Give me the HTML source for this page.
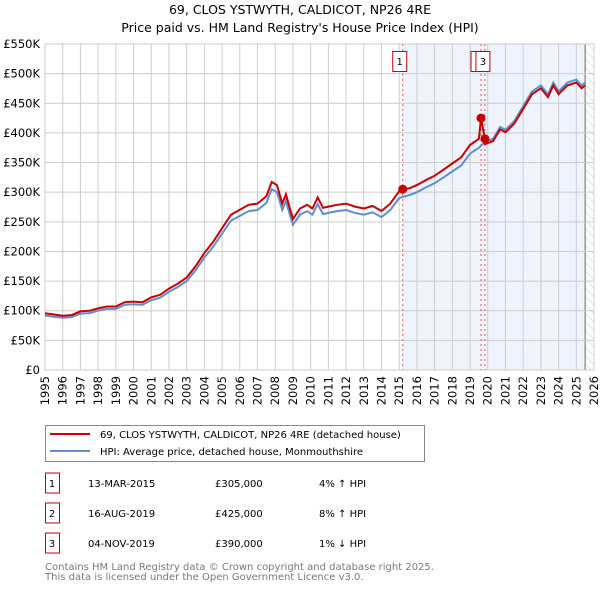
<!DOCTYPE html>
<html><head><meta charset="utf-8"><style>
body{margin:0;background:#fff;font-family:"DejaVu Sans","Liberation Sans",sans-serif;}
svg text{font-family:"DejaVu Sans","Liberation Sans",sans-serif;}
</style></head><body>
<svg id="chart" width="600" height="590" xmlns="http://www.w3.org/2000/svg">
<text x="300" y="14" text-anchor="middle" font-size="12.5">69, CLOS YSTWYTH, CALDICOT, NP26 4RE</text>
<text x="300" y="32" text-anchor="middle" font-size="12.5">Price paid vs. HM Land Registry's House Price Index (HPI)</text>
<defs><pattern id="hatch" width="6" height="6" patternUnits="userSpaceOnUse" patternTransform="rotate(-45)"><line x1="0" y1="0" x2="0" y2="6" stroke="#ccc" stroke-width="1"/></pattern></defs>
<g id="grid"></g>
<g id="series"></g>
<g id="axes"></g>
<rect x="45.5" y="425.5" width="379" height="36" fill="#fff" stroke="#888"/>
<line x1="50" y1="434" x2="90" y2="434" stroke="#cc0000" stroke-width="2"/>
<text x="100" y="438" font-size="10">69, CLOS YSTWYTH, CALDICOT, NP26 4RE (detached house)</text>
<line x1="50" y1="451" x2="90" y2="451" stroke="#5b8fd0" stroke-width="2"/>
<text x="100" y="455" font-size="10">HPI: Average price, detached house, Monmouthshire</text>
<g id="table" font-size="10"></g>
<text x="45" y="570" font-size="10" fill="#777">Contains HM Land Registry data © Crown copyright and database right 2025.</text>
<text x="45" y="580" font-size="10" fill="#777">This data is licensed under the Open Government Licence v3.0.</text>
</svg>
<script>
const hpiYears=[1995,1995.5,1996,1996.5,1997,1997.5,1998,1998.5,1999,1999.5,2000,2000.5,2001,2001.5,2002,2002.5,2003,2003.5,2004,2004.5,2005,2005.5,2006,2006.5,2007,2007.5,2007.8,2008.1,2008.4,2008.6,2009,2009.4,2009.8,2010.1,2010.4,2010.7,2011,2011.5,2012,2012.5,2013,2013.5,2014,2014.5,2015,2015.2,2015.6,2016,2016.5,2017,2017.5,2018,2018.5,2019,2019.5,2019.85,2020.3,2020.7,2021,2021.5,2022,2022.5,2023,2023.4,2023.7,2024,2024.5,2025,2025.3,2025.5];
const hpiValues=[92,90,88,89,95,96,100,103,103,110,111,110,118,122,132,140,150,168,190,208,230,252,260,268,270,282,305,300,270,285,245,262,268,262,280,263,265,268,270,265,262,266,258,270,290,292,295,300,308,315,325,335,345,365,375,385,390,410,405,420,445,470,480,465,485,470,485,490,480,485];
const saleYears=[2015.2,2019.62,2019.84];
const saleValues=[305,425,390];
const saleLabels=["1","2","3"];
const saleDates=["13-MAR-2015","16-AUG-2019","04-NOV-2019"];
const salePrices=["£305,000","£425,000","£390,000"];
const saleDiffs=["4% ↑ HPI","8% ↑ HPI","1% ↓ HPI"];
const yTicks=[0,50,100,150,200,250,300,350,400,450,500,550];
const yTickLabels=["£0","£50K","£100K","£150K","£200K","£250K","£300K","£350K","£400K","£450K","£500K","£550K"];
const xTicks=[1995,1996,1997,1998,1999,2000,2001,2002,2003,2004,2005,2006,2007,2008,2009,2010,2011,2012,2013,2014,2015,2016,2017,2018,2019,2020,2021,2022,2023,2024,2025,2026];

const NS="http://www.w3.org/2000/svg";
const X0=45,X1=594,Y0=370,Y1=44;
const xs=y=>X0+(y-1995)/(2026-1995)*(X1-X0);
const ys=v=>Y0-v/550*(Y0-Y1);
function mk(t,a,p){const e=document.createElementNS(NS,t);for(const k in a)e.setAttribute(k,a[k]);p.appendChild(e);return e;}
const grid=document.getElementById('grid'),ser=document.getElementById('series'),ax=document.getElementById('axes'),tb=document.getElementById('table');
const shade=mk('rect',{x:xs(saleYears[0]),y:Y1,width:xs(2025.5)-xs(saleYears[0]),height:Y0-Y1,fill:'#eef3fc'},grid);


const hat=mk('rect',{x:xs(2025.5),y:Y1,width:X1-xs(2025.5),height:Y0-Y1,fill:'url(#hatch)'},grid);


mk('line',{x1:xs(2025.5),x2:xs(2025.5),y1:Y1,y2:Y0,stroke:'#666','stroke-width':1},grid);
yTicks.forEach((v,i)=>{mk('line',{x1:X0,x2:X1,y1:ys(v),y2:ys(v),stroke:'#ccc','stroke-width':1},grid);
 const t=mk('text',{x:40,y:ys(v)+4,'text-anchor':'end','font-size':11.5},ax);t.textContent=yTickLabels[i];
 
 });
xTicks.forEach(y=>{mk('line',{x1:xs(y),x2:xs(y),y1:Y1,y2:Y0,stroke:'#ccc','stroke-width':1},grid);
 const t=mk('text',{transform:`translate(${xs(y)+4},${Y0+6}) rotate(-90)`,'text-anchor':'end','font-size':11.5},ax);t.textContent=y;
 
 });
mk('rect',{x:X0,y:Y1,width:X1-X0,height:Y0-Y1,fill:'none',stroke:'#ccc'},grid);
const boxOff=[-10,-10,-9];
saleYears.forEach((y,i)=>{mk('line',{x1:xs(y),x2:xs(y),y1:Y1,y2:Y0,stroke:'#e55','stroke-width':1,'stroke-dasharray':'2,3'},grid);
 const bx=xs(y)+boxOff[i];
 const r=mk('rect',{x:bx,y:51.5,width:14,height:20,fill:'#fff',stroke:'#c00'},ax);
 
 
 const t=mk('text',{x:bx+7,y:65,'text-anchor':'middle','font-size':10},ax);t.textContent=saleLabels[i];});
function factor(y){return y<saleYears[1]?1.04:(y<saleYears[2]?1.08:0.99);}
const hp=hpiYears.map((y,i)=>xs(y).toFixed(1)+','+ys(hpiValues[i]).toFixed(1)).join(' ');
const hl=mk('polyline',{points:hp,fill:'none',stroke:'#5b8fd0','stroke-width':2},ser);


let rp=[];hpiYears.forEach((y,i)=>{rp.push([y,hpiValues[i]*factor(y)]);});
saleYears.forEach((y,i)=>rp.push([y,saleValues[i]]));rp.sort((a,b)=>a[0]-b[0]);
const pl=mk('polyline',{points:rp.map(p=>xs(p[0]).toFixed(1)+','+ys(p[1]).toFixed(1)).join(' '),fill:'none',stroke:'#cc0000','stroke-width':2},ser);


saleYears.forEach((y,i)=>{const c=mk('circle',{cx:xs(y),cy:ys(saleValues[i]),r:4.5,fill:'#cc0000'},ser);
 
 });
saleYears.forEach((y,i)=>{const cy=483+i*30;
 mk('rect',{x:45.5,y:cy-10,width:14,height:20,fill:'#fff',stroke:'#c00'},tb);
 const cols=[[52,saleLabels[i],'middle'],[88,saleDates[i],'start'],[215,salePrices[i],'start'],[319,saleDiffs[i],'start']];
 cols.forEach(c=>{const t=mk('text',{x:c[0],y:cy+4,'text-anchor':c[2]},tb);t.textContent=c[1];
 
 });});
</script>
</body></html>
